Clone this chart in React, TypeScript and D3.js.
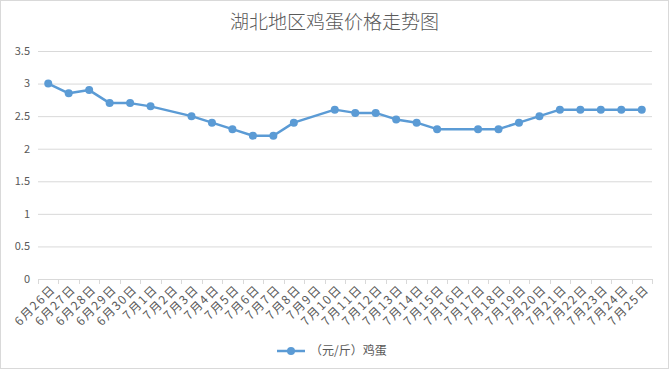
import { useEffect, useRef } from 'react'
import * as d3 from 'd3'

const dates = [
  '6月26日', '6月27日', '6月28日', '6月29日', '6月30日', '7月1日', '7月2日', '7月3日',
  '7月4日', '7月5日', '7月6日', '7月7日', '7月8日', '7月9日', '7月10日', '7月11日',
  '7月12日', '7月13日', '7月14日', '7月15日', '7月16日', '7月17日', '7月18日', '7月19日',
  '7月20日', '7月21日', '7月22日', '7月23日', '7月24日', '7月25日',
]
const prices: (number | null)[] = [
  3.0, 2.85, 2.9, 2.7, 2.7, 2.65, null, 2.5,
  2.4, 2.3, 2.2, 2.2, 2.4, null, 2.6, 2.55,
  2.55, 2.45, 2.4, 2.3, null, 2.3, 2.3, 2.4,
  2.5, 2.6, 2.6, 2.6, 2.6, 2.6,
]
const yTicks = [0, 0.5, 1, 1.5, 2, 2.5, 3, 3.5]
const title = '湖北地区鸡蛋价格走势图'
const seriesName = '（元/斤）鸡蛋'

export default function App() {
  const svgRef = useRef<SVGSVGElement>(null)

  useEffect(() => {
    if (!svgRef.current) return
    const width = 669
    const height = 369
    const margin = { top: 51, right: 17, bottom: 90, left: 38 }
    const innerWidth = width - margin.left - margin.right
    const innerHeight = height - margin.top - margin.bottom
    const font = '"Noto Sans CJK SC", "Noto Sans", sans-serif'
    const textColor = '#595959'
    const blue = '#5b9bd5'

    const svg = d3.select(svgRef.current)
    svg.selectAll('*').remove()

    svg.append('rect')
      .attr('x', 0.5).attr('y', 0.5)
      .attr('width', width - 1).attr('height', height - 1)
      .attr('fill', '#fff')
      .attr('stroke', '#d9d9d9')

    svg.append('text')
      .attr('x', width / 2)
      .attr('y', 29)
      .attr('text-anchor', 'middle')
      .attr('font-family', font)
      .attr('font-size', '19px')
      .attr('font-weight', 300)
      .attr('fill', textColor)
      .text(title)

    const g = svg.append('g').attr('transform', `translate(${margin.left},${margin.top})`)

    const xScale = d3.scaleBand<string>().domain(dates).range([0, innerWidth])
    const yScale = d3.scaleLinear().domain([0, 3.5]).range([innerHeight, 0])

    // grid
    g.append('g')
      .selectAll('line')
      .data(yTicks.slice(1))
      .join('line')
      .attr('x1', 0).attr('x2', innerWidth)
      .attr('y1', d => yScale(d) + 0.5).attr('y2', d => yScale(d) + 0.5)
      .attr('stroke', '#d9d9d9')

    // y labels
    g.append('g')
      .selectAll('text')
      .data(yTicks)
      .join('text')
      .attr('x', -8)
      .attr('y', d => yScale(d))
      .attr('dy', '0.35em')
      .attr('text-anchor', 'end')
      .attr('font-family', font)
      .attr('font-size', '11px')
      .attr('fill', textColor)
      .text(d => String(d))

    // x axis
    const xAxis = g.append('g').attr('transform', `translate(0,${innerHeight})`)
    xAxis.append('line')
      .attr('x1', 0).attr('x2', innerWidth)
      .attr('y1', 0.5).attr('y2', 0.5)
      .attr('stroke', '#d9d9d9')
    const edges = d3.range(dates.length + 1).map(i => i * xScale.bandwidth())
    xAxis.selectAll('line.tick')
      .data(edges)
      .join('line')
      .attr('class', 'tick')
      .attr('x1', d => Math.round(d) + 0.5).attr('x2', d => Math.round(d) + 0.5)
      .attr('y1', 0).attr('y2', 5)
      .attr('stroke', '#d9d9d9')
    xAxis.selectAll('text')
      .data(dates)
      .join('text')
      .attr('transform', d => `translate(${(xScale(d) ?? 0) + xScale.bandwidth() / 2 + 5},${8}) rotate(-45)`)
      .attr('text-anchor', 'end')
      .attr('dy', '0.35em')
      .attr('font-family', font)
      .attr('font-size', '12px')
      .attr('letter-spacing', '1.5px')
      .attr('fill', textColor)
      .text(d => d)

    const pts = dates
      .map((d, i) => ({ d, v: prices[i] }))
      .filter(p => p.v !== null) as { d: string; v: number }[]
    const cx = (d: string) => (xScale(d) ?? 0) + xScale.bandwidth() / 2

    const line = d3.line<{ d: string; v: number }>()
      .x(p => cx(p.d))
      .y(p => yScale(p.v))

    g.append('path')
      .datum(pts)
      .attr('d', line)
      .attr('fill', 'none')
      .attr('stroke', blue)
      .attr('stroke-width', 2.5)
      .attr('stroke-linejoin', 'round')

    g.append('g')
      .selectAll('circle')
      .data(pts)
      .join('circle')
      .attr('cx', p => cx(p.d))
      .attr('cy', p => yScale(p.v))
      .attr('r', 4)
      .attr('fill', blue)

    // legend
    const lg = svg.append('g').attr('transform', 'translate(277,351)')
    lg.append('line')
      .attr('x1', 0).attr('x2', 28)
      .attr('stroke', blue).attr('stroke-width', 2.5)
    lg.append('circle').attr('cx', 14).attr('r', 4).attr('fill', blue)
    lg.append('text')
      .attr('x', 33)
      .attr('dy', '0.35em')
      .attr('font-family', font)
      .attr('font-size', '12px')
      .attr('fill', textColor)
      .text(seriesName)
  }, [])

  return (
    <div style={{ position: 'absolute', left: 0, top: 0 }}>
      <svg ref={svgRef} width={669} height={369} style={{ display: 'block' }} />
    </div>
  )
}
